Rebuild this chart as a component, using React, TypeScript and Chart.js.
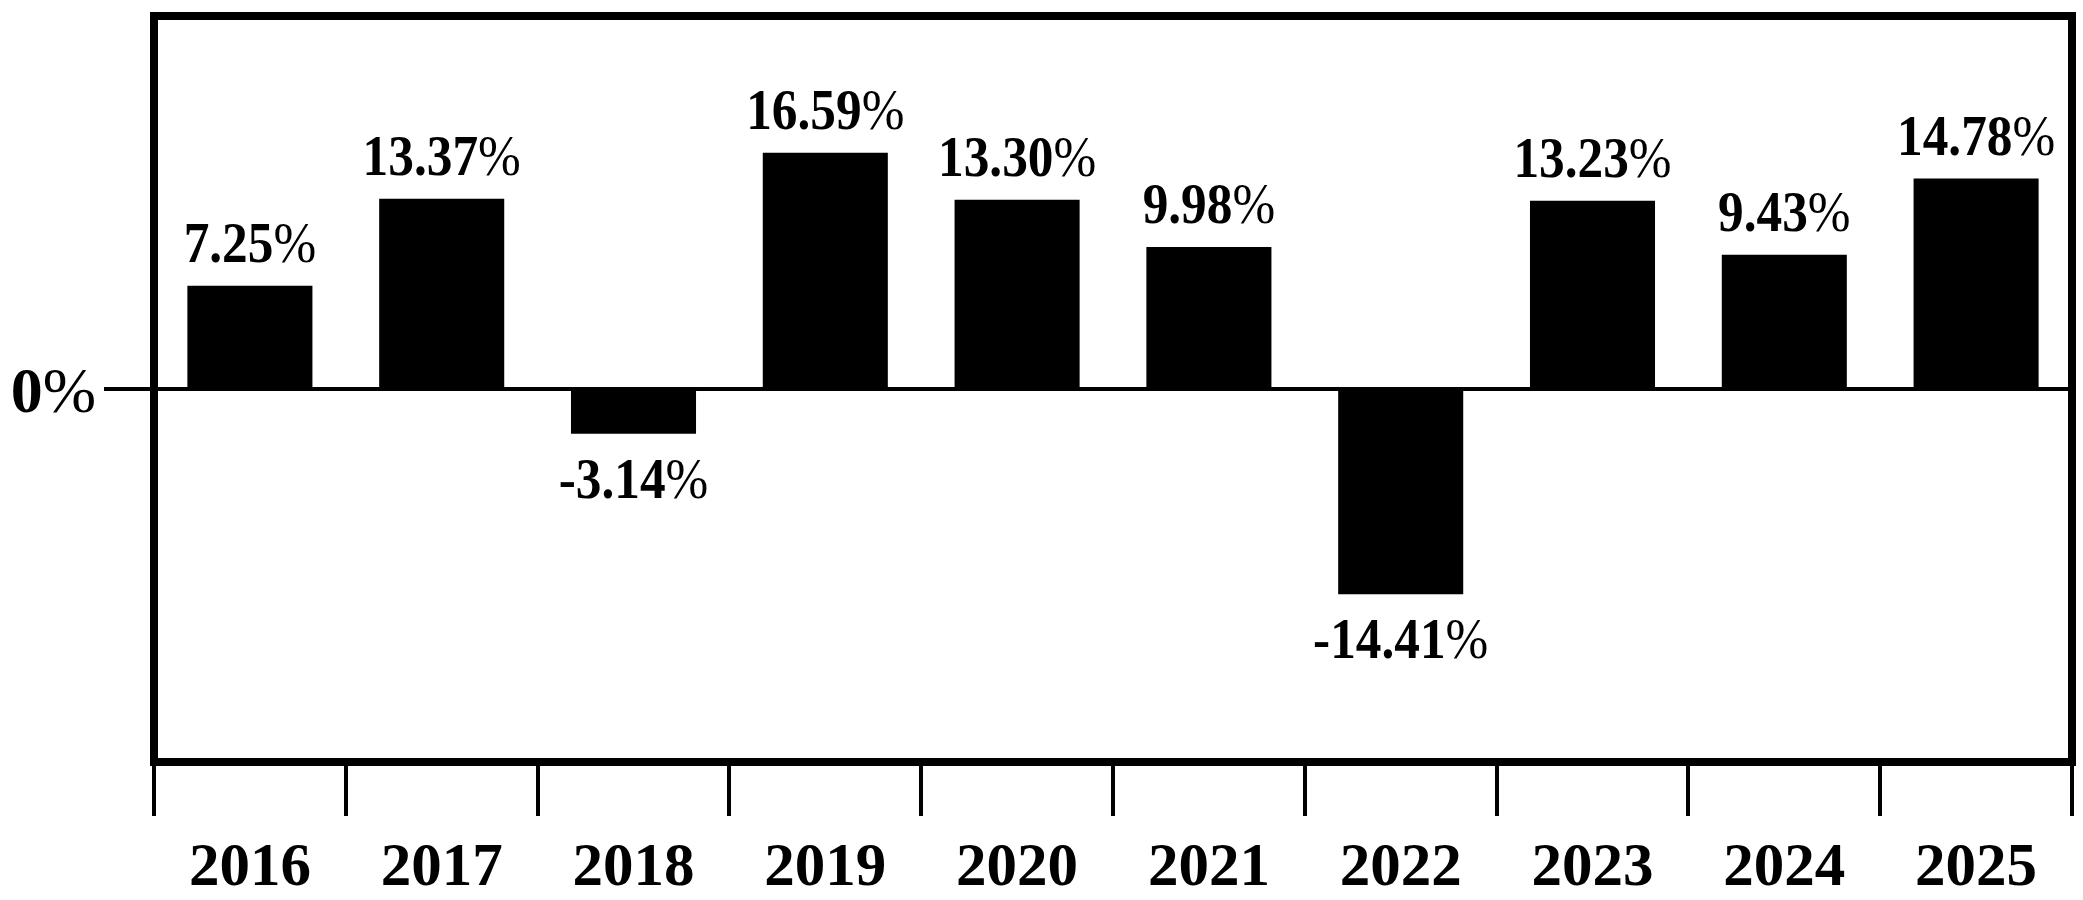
import React, { useEffect, useRef } from "react";
import { Chart, registerables } from "chart.js";

Chart.register(...registerables);

const years = ["2016", "2017", "2018", "2019", "2020", "2021", "2022", "2023", "2024", "2025"];
const returns = [7.25, 13.37, -3.14, 16.59, 13.3, 9.98, -14.41, 13.23, 9.43, 14.78];
const yTickValues = [0];
const yMin = -26.2;
const yMax = 26.2;

const FONT = '"Liberation Serif", "Times New Roman", Times, serif';

const labelPlugin = {
  id: "barLabels",
  afterDatasetsDraw(chart: any) {
    const ctx = chart.ctx;
    const meta = chart.getDatasetMeta(0);
    const data = chart.data.datasets[0].data as number[];
    const bold = `bold 57px ${FONT}`;
    const reg = `57px ${FONT}`;
    meta.data.forEach((bar: any, i: number) => {
      const v = data[i];
      const num = v.toFixed(2);
      ctx.save();
      ctx.font = bold;
      const w1 = ctx.measureText(num).width;
      ctx.font = reg;
      const w2 = ctx.measureText("%").width;
      const total = w1 + w2;
      const baseline = v >= 0 ? bar.y - 24 : bar.y + 64;
      ctx.translate(bar.x, baseline);
      ctx.scale(0.9, 1);
      ctx.textBaseline = "alphabetic";
      ctx.textAlign = "left";
      ctx.fillStyle = "#000";
      ctx.font = bold;
      ctx.fillText(num, -total / 2, 0);
      ctx.font = reg;
      ctx.fillText("%", -total / 2 + w1, 0);
      ctx.restore();
    });

    // y-axis tick label(s)
    const ys = chart.scales.y;
    yTickValues.forEach((tv) => {
      const py = ys.getPixelForValue(tv);
      const numTxt = String(tv);
      ctx.save();
      const b = `bold 64px ${FONT}`;
      const r = `64px ${FONT}`;
      ctx.font = b;
      const w1 = ctx.measureText(numTxt).width;
      ctx.font = r;
      const w2 = ctx.measureText("%").width;
      const right = ys.right - 50 - 8;
      ctx.textBaseline = "alphabetic";
      ctx.textAlign = "left";
      ctx.fillStyle = "#000";
      ctx.font = b;
      ctx.fillText(numTxt, right - w1 - w2, py + 23);
      ctx.font = r;
      ctx.fillText("%", right - w2, py + 23);
      ctx.restore();
    });
  },
  afterDraw(chart: any) {
    const { ctx, chartArea } = chart;
    ctx.save();
    ctx.strokeStyle = "#000";
    ctx.lineWidth = 8;
    ctx.strokeRect(chartArea.left, chartArea.top, chartArea.right - chartArea.left, chartArea.bottom - chartArea.top);
    ctx.restore();
  },
};

export default function App() {
  const ref = useRef<HTMLCanvasElement | null>(null);

  useEffect(() => {
    if (!ref.current) return;
    const chart = new Chart(ref.current, {
      type: "bar",
      data: {
        labels: years,
        datasets: [
          {
            data: returns,
            backgroundColor: "#000",
            borderWidth: 0,
            barPercentage: 0.652,
            categoryPercentage: 1,
          },
        ],
      },
      options: {
        responsive: false,
        animation: false,
        devicePixelRatio: 1,
        layout: { padding: { top: 16, right: 11, left: 0, bottom: 0 } },
        plugins: {
          legend: { display: false },
          tooltip: { enabled: false },
        },
        scales: {
          x: {
            grid: {
              offset: true,
              drawOnChartArea: false,
              drawTicks: true,
              tickLength: 54,
              lineWidth: 4,
              color: "#000",
            },
            border: { display: false },
            ticks: {
              color: "#000",
              font: { family: FONT, size: 61, weight: "bold" },
              padding: 17,
              maxRotation: 0,
              autoSkip: false,
            },
            afterFit: (s: any) => {
              s.height = 138;
            },
          },
          y: {
            min: yMin,
            max: yMax,
            afterBuildTicks: (s: any) => {
              s.ticks = yTickValues.map((v) => ({ value: v }));
            },
            grid: {
              drawOnChartArea: true,
              drawTicks: true,
              tickLength: 50,
              lineWidth: 4,
              color: "#000",
            },
            border: { display: false },
            ticks: { display: false },
            afterFit: (s: any) => {
              s.width = 154;
            },
          },
        },
      },
      plugins: [labelPlugin],
    });
    return () => chart.destroy();
  }, []);

  return (
    <div style={{ position: "absolute", left: 0, top: 0, width: 2083, height: 900, background: "#fff" }}>
      <canvas ref={ref} width={2083} height={900} style={{ display: "block" }} />
    </div>
  );
}
